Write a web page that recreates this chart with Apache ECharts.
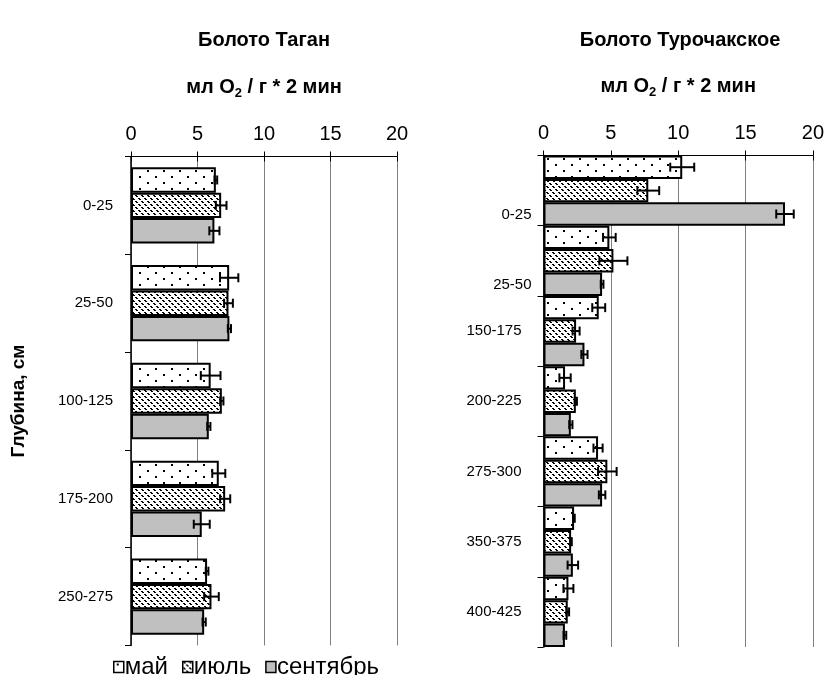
<!DOCTYPE html>
<html><head><meta charset="utf-8">
<script src="https://cdn.jsdelivr.net/npm/echarts@6/dist/echarts.min.js"></script>
<style>html,body{margin:0;padding:0;background:#fff}#c{width:827px;height:675px}</style>
</head><body><div id="c"></div>
<script>
// ---- data ----
const seriesNames = ['май', 'июль', 'сентябрь'];
const xTicks = [0, 5, 10, 15, 20];

const leftCats = ['0-25', '25-50', '100-125', '175-200', '250-275'];
const leftMay = [6.38, 7.38, 5.99, 6.6, 5.72];
const leftMayErr = [0.1, 0.69, 0.74, 0.49, 0.1];
const leftJul = [6.78, 7.33, 6.83, 7.08, 6.05];
const leftJulErr = [0.4, 0.33, 0.12, 0.38, 0.55];
const leftSep = [6.27, 7.4, 5.85, 5.32, 5.5];
const leftSepErr = [0.38, 0.12, 0.12, 0.6, 0.12];

const rightCats = ['0-25', '25-50', '150-175', '200-225', '275-300', '350-375', '400-425'];
const rightMay = [10.3, 4.89, 4.1, 1.6, 4.05, 2.27, 1.85];
const rightMayErr = [0.89, 0.47, 0.48, 0.42, 0.34, 0.05, 0.37];
const rightJul = [7.78, 5.19, 2.42, 2.4, 4.74, 2.05, 1.8];
const rightJulErr = [0.81, 1.04, 0.26, 0.08, 0.69, 0.05, 0.1];
const rightSep = [17.93, 4.35, 3.04, 2.03, 4.35, 2.18, 1.59];
const rightSepErr = [0.65, 0.1, 0.23, 0.12, 0.24, 0.39, 0.1];

// ---- styles ----
const FONT = 'Liberation Sans, Arial, sans-serif';
function dotPattern() {
  const c = document.createElement('canvas'); c.width = 16; c.height = 12;
  const g = c.getContext('2d'); g.fillStyle = '#fff'; g.fillRect(0, 0, 16, 12);
  g.fillStyle = '#000'; g.fillRect(3, 2, 2, 2); g.fillRect(11, 8, 2, 2);
  return c;
}
function hatchPattern() {
  const c = document.createElement('canvas'); c.width = 6; c.height = 6;
  const g = c.getContext('2d'); g.fillStyle = '#fff'; g.fillRect(0, 0, 6, 6);
  g.fillStyle = '#000';
  for (let i = 0; i < 6; i++) { if (i === 2 || i === 5) continue; g.fillRect(i, i, 2, 1); }
  return c;
}
const fills = [
  { image: dotPattern(), repeat: 'repeat' },
  { image: hatchPattern(), repeat: 'repeat' },
  '#c0c0c0'
];

const chart = echarts.init(document.getElementById('c'));

const nameRich = {
  b: { fontSize: 20, fontWeight: 'bold', fontFamily: FONT, color: '#000' },
  s: { fontSize: 13, fontWeight: 'bold', fontFamily: FONT, color: '#000', padding: [12, 0, 0, 0] }
};

function valueAxis(gi) {
  return {
    gridIndex: gi, type: 'value', position: 'top', min: 0, max: 20, interval: 5,
    name: '{b|мл O}{s|2}{b| / г * 2 мин}', nameLocation: 'middle', nameGap: 57,
    nameTextStyle: { rich: nameRich },
    axisLine: { show: true, lineStyle: { color: '#000', width: 1 } },
    axisTick: { show: true, length: 5, lineStyle: { color: '#000' } },
    axisLabel: { fontSize: 20, fontFamily: FONT, color: '#000', margin: 12,
      formatter: v => xTicks.includes(v) ? String(v) : '' },
    splitLine: { show: true, lineStyle: { color: '#808080', width: 1 } }
  };
}
function tickAxis(gi) {
  return {
    gridIndex: gi, type: 'value', position: 'top', min: 0, max: 20, interval: 5,
    axisLine: { show: false }, axisLabel: { show: false }, splitLine: { show: false },
    axisTick: { show: true, inside: true, length: 5, lineStyle: { color: '#000' } }
  };
}
function catAxis(gi, cats, extra) {
  return Object.assign({
    gridIndex: gi, type: 'category', data: cats, inverse: true,
    axisLine: { show: true, onZero: false, lineStyle: { color: '#000', width: 1.5 } },
    axisTick: { show: true, length: 6, interval: 0, lineStyle: { color: '#000' } },
    axisLabel: { fontSize: 15, fontFamily: FONT, color: '#000', margin: 18, interval: 0 },
    splitLine: { show: false }
  }, extra || {});
}

function barSeries(i, xi, vals, gap) {
  return {
    type: 'bar', name: seriesNames[i], xAxisIndex: xi, yAxisIndex: xi,
    data: vals, barGap: '0%', barCategoryGap: gap,
    itemStyle: { color: fills[i], borderColor: '#000', borderWidth: 2 },
    emphasis: { disabled: true }, animation: false, z: 2
  };
}
function errSeries(i, xi, vals, errs, gapFrac) {
  return {
    type: 'custom', xAxisIndex: xi, yAxisIndex: xi, animation: false, z: 5,
    silent: true,
    data: vals.map((v, k) => [v, k, errs[k]]),
    renderItem: function (params, api) {
      const v = api.value(0), k = api.value(1), e = api.value(2);
      const c = api.coord([v, k]);
      const band = api.size([0, 1])[1];
      const total = band * (1 - gapFrac);
      const bw = total / 3;
      const yc = c[1] - total / 2 + bw * (i + 0.5);
      const x1 = api.coord([v - e, k])[0], x2 = api.coord([v + e, k])[0];
      const h = 4.5;
      const st = { stroke: '#000', lineWidth: 2 };
      return { type: 'group', children: [
        { type: 'line', shape: { x1: x1, y1: yc, x2: x2, y2: yc }, style: st },
        { type: 'line', shape: { x1: x1, y1: yc - h, x2: x1, y2: yc + h }, style: st },
        { type: 'line', shape: { x1: x2, y1: yc - h, x2: x2, y2: yc + h }, style: st }
      ]};
    }
  };
}

const leftVals = [leftMay, leftJul, leftSep], leftErrs = [leftMayErr, leftJulErr, leftSepErr];
const rightVals = [rightMay, rightJul, rightSep], rightErrs = [rightMayErr, rightJulErr, rightSepErr];

const series = [];
for (let i = 0; i < 3; i++) series.push(barSeries(i, 0, leftVals[i], '22%'));
for (let i = 0; i < 3; i++) series.push(barSeries(i, 1, rightVals[i], '0%'));
for (let i = 0; i < 3; i++) series.push(errSeries(i, 0, leftVals[i], leftErrs[i], 0.22));
for (let i = 0; i < 3; i++) series.push(errSeries(i, 1, rightVals[i], rightErrs[i], 0));

const rightLabelData = rightCats.map((c, k) => k < 2
  ? { value: c }
  : { value: c, textStyle: { padding: [0, 10, 0, 0] } });

chart.setOption({
  animation: false,
  textStyle: { fontFamily: FONT },
  graphic: [
    { type: 'text', x: 264, y: 40, style: { text: 'Болото Таган', x: 0, y: 0,
      font: 'bold 20px ' + FONT, fill: '#000', textAlign: 'center', textVerticalAlign: 'middle' } },
    { type: 'text', x: 680, y: 40, style: { text: 'Болото Турочакское', x: 0, y: 0,
      font: 'bold 20px ' + FONT, fill: '#000', textAlign: 'center', textVerticalAlign: 'middle' } }
  ],
  legend: {
    data: seriesNames, left: 108, top: 650, icon: 'rect', itemWidth: 10, itemHeight: 11, itemGap: 14,
    textStyle: { fontSize: 24, fontFamily: FONT, color: '#000', padding: [0, 0, 0, -4] },
    itemStyle: { borderColor: '#000', borderWidth: 1.5 }
  },
  grid: [
    { left: 131, top: 156.5, width: 266, height: 489 },
    { left: 543.5, top: 155.5, width: 270, height: 491.5 }
  ],
  xAxis: [valueAxis(0), valueAxis(1), tickAxis(0), tickAxis(1)],
  yAxis: [
    catAxis(0, leftCats, { name: 'Глубина, см', nameLocation: 'middle', nameGap: 103, nameRotate: 90,
      nameTextStyle: { fontSize: 19, fontWeight: 'bold', fontFamily: FONT, color: '#000' } }),
    catAxis(1, rightLabelData, { axisLabel: { fontSize: 15, fontFamily: FONT, color: '#000', margin: 12,
      interval: 0, lineHeight: 24, formatter: (v, idx) => idx < 2 ? '\n\n' + v : v } })
  ],
  series: series
});
</script></body></html>
